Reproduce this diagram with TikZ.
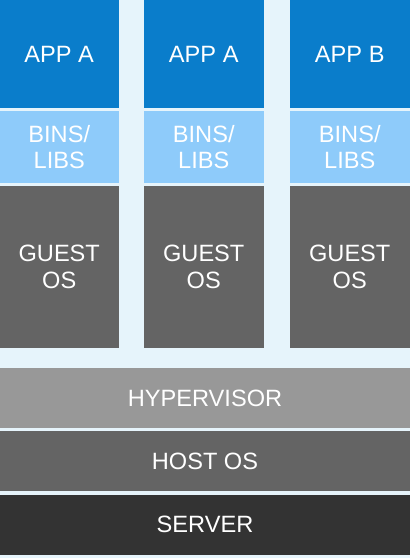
\documentclass[tikz,border=0pt]{standalone}
\usepackage{fontspec}
\setmainfont{Liberation Sans}
\definecolor{bgblue}{HTML}{E6F4FB}
\definecolor{appblue}{HTML}{0A7DCB}
\definecolor{binblue}{HTML}{8ECBFA}
\definecolor{guestgray}{HTML}{646464}
\definecolor{hypgray}{HTML}{989898}
\definecolor{hostgray}{HTML}{646464}
\definecolor{servgray}{HTML}{333333}
\tikzset{
  blk/.style={rectangle, inner sep=0pt, outer sep=0pt, text=white, align=center,
    font=\fontsize{23.6}{26.7}\selectfont},
}
\begin{document}
\begin{tikzpicture}[x=1pt,y=-1pt]
\fill[bgblue] (0,0) rectangle (410,558);
\useasboundingbox (0,0) rectangle (410,558);
% columns
\foreach \i/\xl/\xr/\app in {1/0/118.5/APP A, 2/144/263.5/APP A, 3/289.5/410/APP B}{
  \node[blk, fill=appblue, minimum width={\xr-\xl}, minimum height=108] (app\i) at ({(\xl+\xr)/2},54) {\app};
  \node[blk, fill=binblue, minimum width={\xr-\xl}, minimum height=72] (bins\i) at ({(\xl+\xr)/2},147) {BINS/\\LIBS};
  \node[blk, fill=guestgray, minimum width={\xr-\xl}, minimum height=162.5] (guest\i) at ({(\xl+\xr)/2},266.75) {GUEST\\OS};
}
\node[blk, fill=hypgray, minimum width=410, minimum height=60] (hyp) at (205,398) {HYPERVISOR};
\node[blk, fill=hostgray, minimum width=410, minimum height=60] (host) at (205,461) {HOST OS};
\node[blk, fill=servgray, minimum width=410, minimum height=60.5] (server) at (205,524.75) {SERVER};
\end{tikzpicture}
\end{document}
